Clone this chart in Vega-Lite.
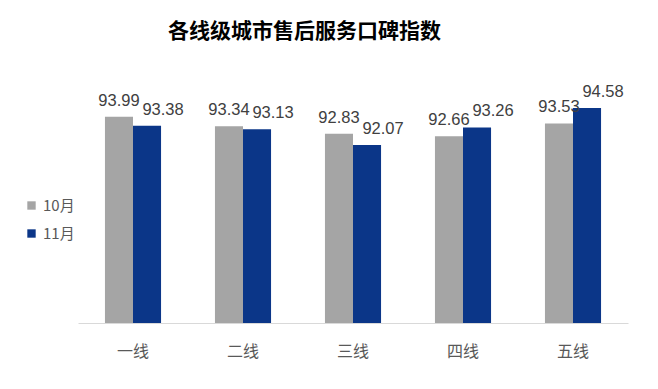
{
  "$schema": "https://vega.github.io/schema/vega-lite/v6.json",
  "autosize": {"type": "none"},
  "width": 550,
  "height": 236,
  "padding": {"left": 78, "top": 87, "right": 30, "bottom": 66},
  "background": "white",
  "title": {
    "text": "各线级城市售后服务口碑指数",
    "anchor": "start",
    "frame": "group",
    "dx": 90,
    "offset": 42,
    "font": "Noto Sans CJK SC",
    "fontSize": 21,
    "fontWeight": "bold",
    "color": "#000000"
  },
  "config": {"view": {"stroke": null}},
  "data": {
    "values": [
      {"city": "一线", "month": "10月", "value": 93.99},
      {"city": "一线", "month": "11月", "value": 93.38},
      {"city": "二线", "month": "10月", "value": 93.34},
      {"city": "二线", "month": "11月", "value": 93.13},
      {"city": "三线", "month": "10月", "value": 92.83},
      {"city": "三线", "month": "11月", "value": 92.07},
      {"city": "四线", "month": "10月", "value": 92.66},
      {"city": "四线", "month": "11月", "value": 93.26},
      {"city": "五线", "month": "10月", "value": 93.53},
      {"city": "五线", "month": "11月", "value": 94.58}
    ]
  },
  "encoding": {
    "x": {
      "field": "city",
      "type": "nominal",
      "sort": ["一线", "二线", "三线", "四线", "五线"],
      "scale": {"paddingInner": 0.49, "paddingOuter": 0.245},
      "axis": {
        "title": null,
        "labelAngle": 0,
        "ticks": false,
        "domainColor": "#D9D9D9",
        "domainWidth": 1,
        "labelFont": "Noto Sans CJK SC",
        "labelFontSize": 16,
        "labelColor": "#595959",
        "labelPadding": 20
      }
    },
    "xOffset": {"field": "month", "type": "nominal", "scale": {"paddingInner": 0, "paddingOuter": 0}},
    "y": {
      "field": "value",
      "type": "quantitative",
      "scale": {"domain": [80, 96], "zero": false, "nice": false},
      "axis": null
    }
  },
  "layer": [
    {
      "mark": {"type": "bar"},
      "encoding": {
        "y2": {"datum": 80},
        "color": {
          "field": "month",
          "type": "nominal",
          "scale": {"domain": ["10月", "11月"], "range": ["#A5A5A5", "#0B3688"]},
          "legend": {
            "title": null,
            "orient": "none",
            "legendX": -54,
            "legendY": 111,
            "symbolType": "square",
            "symbolSize": 70,
            "symbolStrokeWidth": 0,
            "labelFont": "Noto Sans CJK SC",
            "labelFontSize": 15,
            "labelColor": "#595959",
            "rowPadding": 12,
            "labelOffset": 4
          }
        }
      }
    },
    {
      "transform": [{"filter": "datum.month === '10月'"}],
      "mark": {"type": "text", "dy": -16, "font": "Liberation Sans", "fontSize": 16.5, "color": "#404040"},
      "encoding": {"text": {"field": "value", "type": "quantitative", "format": ".2f"}}
    },
    {
      "transform": [{"filter": "datum.month === '11月'"}],
      "mark": {"type": "text", "dy": -16, "dx": 16, "font": "Liberation Sans", "fontSize": 16.5, "color": "#404040"},
      "encoding": {"text": {"field": "value", "type": "quantitative", "format": ".2f"}}
    }
  ]
}
